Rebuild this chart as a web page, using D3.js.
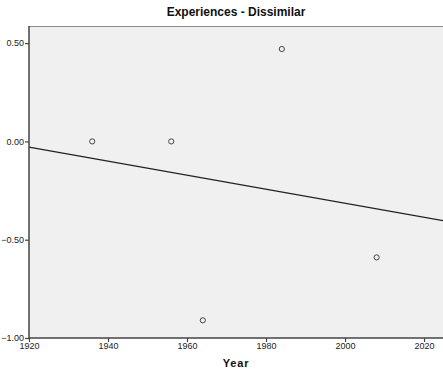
<!DOCTYPE html>
<html>
<head>
<meta charset="utf-8">
<script src="https://cdn.jsdelivr.net/npm/d3@7"></script>
<style>
  body { margin: 0; background: #fff; }
  svg { display: block; font-family: "Liberation Sans", Arial, sans-serif; }
</style>
</head>
<body>
<div id="chart"></div>
<script>
// data
const years = [1936, 1956, 1964, 1984, 2008];
const values = [0.00, 0.00, -0.91, 0.47, -0.59];
const xTicks = [1920, 1940, 1960, 1980, 2000, 2020];
const yTicks = [0.5, 0, -0.5, -1];

const width = 443, height = 377;
const margin = { left: 29, right: 0, top: 26, bottom: 39 };
const w = width - margin.left - margin.right;
const h = height - margin.top - margin.bottom;

const xScale = d3.scaleLinear().domain([1920, 2024.8]).range([0, w]);
const yScale = d3.scaleLinear().domain([-1, 0.587]).range([h, 0]);

const svg = d3.select("#chart").append("svg")
  .attr("width", width)
  .attr("height", height);

const g = svg.append("g")
  .attr("transform", "translate(" + margin.left + "," + margin.top + ")");

// grey plot background
g.append("rect")
  .attr("width", w)
  .attr("height", h)
  .attr("fill", "#f0f0f0");

// top border
g.append("line")
  .attr("x1", 0).attr("x2", w)
  .attr("y1", 0.5).attr("y2", 0.5)
  .attr("stroke", "#8c8c8c");

// least squares fit line from the points
const mx = d3.mean(years), my = d3.mean(values);
let sxy = 0, sxx = 0;
years.forEach((x, i) => {
  sxy += (x - mx) * (values[i] - my);
  sxx += (x - mx) * (x - mx);
});
const slope = sxy / sxx;
const fit = xScale.domain().map(x => ({ x: x, y: my + slope * (x - mx) }));

g.append("path")
  .attr("d", d3.line().x(d => xScale(d.x)).y(d => yScale(d.y))(fit))
  .attr("fill", "none")
  .attr("stroke", "#222")
  .attr("stroke-width", 1.3);

// points
g.selectAll("circle.pt")
  .data(years)
  .enter().append("circle")
  .attr("class", "pt")
  .attr("cx", d => xScale(d))
  .attr("cy", (d, i) => yScale(values[i]))
  .attr("r", 2.6)
  .attr("fill", "none")
  .attr("stroke", "#444")
  .attr("stroke-width", 1);

// axes
const yAxis = d3.axisLeft(yScale)
  .tickValues(yTicks)
  .tickFormat(d3.format(".2f"))
  .tickSize(4)
  .tickPadding(1);
const xAxis = d3.axisBottom(xScale)
  .tickValues(xTicks)
  .tickFormat(d3.format("d"))
  .tickSize(4)
  .tickPadding(1);

const ya = g.append("g").call(yAxis);
const xa = g.append("g").attr("transform", "translate(0," + h + ")").call(xAxis);

[ya, xa].forEach(a => {
  a.select(".domain").attr("stroke", "#444").attr("stroke-width", 1.5);
  a.selectAll(".tick line").attr("stroke", "#444").attr("stroke-width", 1.2);
  a.selectAll(".tick text").attr("fill", "#222").attr("font-size", 9)
    .attr("font-family", "'Liberation Sans', Arial, sans-serif");
});
ya.select(".domain").attr("d", "M0," + h + "V0");
xa.select(".domain").attr("d", "M0,0H" + w);

// title
svg.append("text")
  .attr("x", 236)
  .attr("y", 16)
  .attr("text-anchor", "middle")
  .attr("font-size", 12)
  .attr("font-weight", "bold")
  .attr("fill", "#111")
  .text("Experiences - Dissimilar");

// x label
svg.append("text")
  .attr("x", 236)
  .attr("y", 367)
  .attr("text-anchor", "middle")
  .attr("font-size", 11)
  .attr("font-weight", "bold")
  .attr("letter-spacing", 0.8)
  .attr("fill", "#111")
  .text("Year");
</script>
</body>
</html>
